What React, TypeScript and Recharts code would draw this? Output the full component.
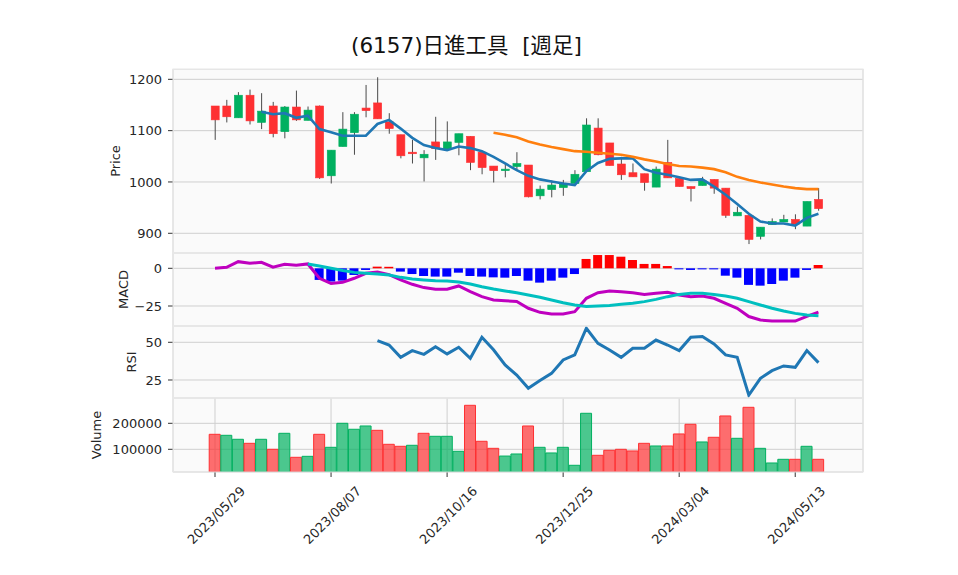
import React from 'react'
import { ComposedChart, Bar, Line, XAxis, YAxis, CartesianGrid, Cell } from 'recharts'

// weekly OHLC
const opens = [1148, 1148, 1125, 1169, 1116, 1148, 1098, 1146, 1120, 1148, 1012, 1069, 1096, 1144, 1154, 1117, 1092, 1058, 1047, 1078, 1064, 1077, 1089, 1058, 1031, 1022, 1030, 1033, 973, 985, 989, 997, 1020, 1105, 1076, 1035, 1018, 1016, 990, 1038, 1007, 991, 993, 1005, 988, 934, 935, 894, 917, 922, 927, 914, 966]
const highs = [1148, 1160, 1175, 1180, 1173, 1156, 1148, 1178, 1147, 1149, 1062, 1136, 1136, 1189, 1204, 1134, 1092, 1082, 1062, 1127, 1118, 1094, 1089, 1058, 1031, 1036, 1058, 1033, 993, 1003, 1004, 1023, 1124, 1124, 1076, 1049, 1036, 1016, 1030, 1082, 1010, 991, 1010, 1005, 988, 952, 935, 912, 929, 936, 937, 962, 988]
const lows = [1082, 1116, 1125, 1112, 1103, 1087, 1085, 1119, 1120, 1006, 997, 1069, 1053, 1126, 1123, 1094, 1046, 1036, 1001, 1043, 1064, 1052, 1023, 1015, 999, 1009, 1023, 970, 966, 970, 973, 997, 1020, 1052, 1032, 1004, 1010, 983, 990, 1008, 991, 962, 993, 977, 930, 934, 879, 888, 917, 922, 908, 914, 944]
const closes = [1121, 1127, 1169, 1119, 1138, 1094, 1146, 1121, 1140, 1008, 1062, 1103, 1132, 1139, 1123, 1104, 1051, 1055, 1054, 1065, 1078, 1094, 1038, 1028, 1022, 1025, 1036, 971, 986, 994, 996, 1015, 1111, 1053, 1032, 1014, 1010, 999, 1025, 1008, 991, 987, 1002, 988, 935, 941, 888, 912, 923, 927, 918, 962, 948]
const volumes = [157700, 153800, 138500, 123000, 138500, 100000, 161500, 69200, 73000, 157700, 107700, 200000, 177000, 189700, 173000, 119200, 111500, 115400, 161500, 150000, 150000, 92300, 269200, 130800, 103800, 74000, 82000, 189700, 107700, 85900, 107700, 38500, 238500, 76900, 96200, 100000, 93600, 123000, 112800, 112800, 159000, 196200, 128200, 146200, 228200, 142300, 261500, 103800, 47400, 61500, 61500, 111500, 61500]

const ma5 = [null, null, null, null, 1137, 1132, 1134, 1125, 1129, 1103, 1097, 1090, 1090, 1090, 1113, 1121, 1104, 1086, 1072, 1066, 1062, 1069, 1066, 1060, 1049, 1036, 1023, 1012, 1005, 1001, 997, 994, 1021, 1037, 1045, 1046, 1046, 1025, 1018, 1014, 1009, 1004, 1005, 991, 975, 957, 938, 923, 919, 919, 915, 930, 938]
const ma25 = [null, null, null, null, null, null, null, null, null, null, null, null, null, null, null, null, null, null, null, null, null, null, null, null, 1096, 1092, 1087, 1079, 1073, 1068, 1064, 1060, 1059, 1057, 1055, 1053, 1049, 1044, 1040, 1035, 1031, 1030, 1028, 1025, 1019, 1010, 1004, 999, 995, 991, 988, 986, 986]

const macdLine = [0, 0.7, 4.4, 3.3, 4, 0.7, 2.7, 2, 2.9, -6.6, -10, -9.3, -6.6, -3.3, -2.4, -4.2, -7.7, -10.6, -12.8, -13.9, -13.9, -11.7, -15.5, -18.8, -21, -21.5, -22, -26.5, -29.2, -30.3, -30.3, -28.8, -19.9, -16.2, -15, -15.5, -16.2, -17.3, -16.6, -15.9, -17.7, -18.8, -18.4, -19.9, -23.2, -26.5, -32, -34.3, -35, -35, -35, -31.9, -29]
const signalLine = [null, null, null, null, null, null, null, null, 2.9, 1.5, 0, -1.5, -2.7, -3.3, -3.8, -4.4, -6, -7.1, -7.7, -8.2, -8.4, -9.1, -10.4, -12.2, -13.7, -15, -16.2, -17.7, -19.2, -21, -22.8, -24.3, -25.4, -25, -24.6, -23.9, -23.2, -22.1, -20.6, -18.8, -17.3, -16.6, -16.6, -17.3, -18.4, -19.9, -22.1, -24.3, -26.5, -28.3, -29.9, -31, -31.4]
const histogram = [null, null, null, null, null, null, null, null, null, -7.7, -8.8, -8.2, -4.4, -1.1, 1.1, 1, -2.2, -3.8, -5.1, -5.5, -5.5, -2.9, -5.1, -5.5, -6, -6.2, -5.1, -8.2, -9.5, -8.2, -6.2, -3.8, 6.2, 8.8, 8.8, 7.7, 5.5, 2.9, 2.9, 1.5, -0.7, -1.1, -0.7, -0.7, -4.9, -6.2, -11, -11.5, -10.4, -8.2, -6.2, -1.1, 2.2]
const rsi14 = [null, null, null, null, null, null, null, null, null, null, null, null, null, null, 51.1, 48.2, 40, 44.5, 42, 47.1, 42.3, 46.7, 39.4, 53.3, 45, 35, 28.3, 19.5, 24.6, 29.4, 38.3, 41.6, 59.3, 49.3, 44.9, 40, 46, 46, 51.5, 48.2, 44.5, 53.3, 53.8, 48.9, 41.6, 40, 15, 26.1, 31.2, 34.3, 33.4, 44.5, 36.5]

const dateTickIdx = [0, 10, 20, 30, 40, 50]
const dateTickLabels = ['2023/05/29', '2023/08/07', '2023/10/16', '2023/12/25', '2024/03/04', '2024/05/13']

const UP = '#00b060'
const DOWN = '#fe3032'
const WICK = '#4a4a4a'
const FONT = '"DejaVu Sans", "Noto Sans CJK JP", sans-serif'
const X_DOMAIN = [-3.62, 55.84]
const AXIS_W = 60
const MARGIN = { top: 0, right: 95, bottom: 0, left: 173 - AXIS_W }
const tickStyle = { fill: '#262626', fontSize: 13, fontFamily: FONT }

const rows = closes.map((c, i) => ({
  i,
  o: opens[i],
  h: highs[i],
  l: lows[i],
  c,
  vol: volumes[i],
  volUp: i > 0 && c >= closes[i - 1],
  ma5: ma5[i],
  ma25: ma25[i],
  macd: macdLine[i],
  signal: signalLine[i],
  hist: histogram[i],
  rsi: rsi14[i],
}))

const fmtNum = (v: number) => (v < 0 ? `\u2212${Math.abs(v)}` : String(v))

const Candle = (props: any) => {
  const { x, y, width, height, payload } = props
  if (!payload) return null
  const { o, h, l, c } = payload
  const top = Math.min(y, y + height)
  const span = Math.abs(height)
  const k = span / (h - l)
  const yOf = (v: number) => top + (h - v) * k
  const color = c >= o ? UP : DOWN
  const bTop = yOf(Math.max(o, c))
  const bBot = yOf(Math.min(o, c))
  const cx = x + width / 2
  return (
    <g>
      <line x1={cx} x2={cx} y1={top} y2={top + span} stroke={WICK} strokeWidth={1} />
      <rect x={x} y={bTop} width={width} height={Math.max(bBot - bTop, 1)} fill={color} stroke={color} strokeWidth={0.6} />
    </g>
  )
}

const DateTick = (props: any) => {
  const { x, y, payload } = props
  const idx = dateTickIdx.indexOf(payload.value)
  const ax = x + 31
  const ay = y + 13
  return (
    <text x={ax} y={ay} transform={`rotate(-45 ${ax} ${ay})`} textAnchor="end" fill="#262626" fontSize={13} fontFamily={FONT}>
      {dateTickLabels[idx]}
    </text>
  )
}

function Panel({ top, height, yDomain, yTicks, dates, children }: any) {
  return (
    <div style={{ position: 'absolute', left: 0, top }}>
      <ComposedChart width={958} height={height + (dates ? 100 : 0)} data={rows} margin={MARGIN}>
        <CartesianGrid stroke="#cfcfcf" fill="#fafafa" />
        {dates ? (
          <XAxis
            type="number"
            dataKey="i"
            domain={X_DOMAIN}
            ticks={dateTickIdx}
            allowDataOverflow
            interval={0}
            height={100}
            axisLine={false}
            tickLine={{ stroke: '#333' }}
            tickSize={5}
            tick={<DateTick />}
          />
        ) : (
          <XAxis
            type="number"
            dataKey="i"
            domain={X_DOMAIN}
            ticks={dateTickIdx}
            allowDataOverflow
            interval={0}
            height={0}
            axisLine={false}
            tickLine={false}
            tick={false}
          />
        )}
        <YAxis
          type="number"
          domain={yDomain}
          ticks={yTicks}
          allowDataOverflow
          interval={0}
          width={AXIS_W}
          tickSize={5}
          tickMargin={6}
          tick={tickStyle}
          tickFormatter={fmtNum}
          axisLine={{ stroke: '#e6e6e6' }}
          tickLine={{ stroke: '#333' }}
        />
        {children}
      </ComposedChart>
    </div>
  )
}

const panels = [
  { top: 69, height: 184 },
  { top: 253, height: 73 },
  { top: 326, height: 72 },
  { top: 398, height: 74 },
]

export default function App() {
  return (
    <div style={{ position: 'absolute', left: 0, top: 0, width: 958, height: 575, background: '#fff', fontFamily: FONT }}>
      <Panel top={69} height={184} yDomain={[861.6, 1220.1]} yTicks={[900, 1000, 1100, 1200]}>
        <Bar dataKey={(d: any) => [d.l, d.h]} barSize={8} shape={<Candle />} isAnimationActive={false} />
        <Line dataKey="ma5" stroke="#1f77b4" strokeWidth={2.6} dot={false} isAnimationActive={false} />
        <Line dataKey="ma25" stroke="#ff7f0e" strokeWidth={2.6} dot={false} isAnimationActive={false} />
      </Panel>
      <Panel top={253} height={73} yDomain={[-38.26, 10.15]} yTicks={[-25, 0]}>
        <Bar dataKey="hist" barSize={9} isAnimationActive={false}>
          {rows.map((r) => (
            <Cell key={r.i} fill={r.hist != null && r.hist >= 0 ? '#ff0000' : '#0000ff'} />
          ))}
        </Bar>
        <Line dataKey="macd" stroke="#bf00bf" strokeWidth={3} dot={false} isAnimationActive={false} />
        <Line dataKey="signal" stroke="#00bfbf" strokeWidth={3} dot={false} isAnimationActive={false} />
      </Panel>
      <Panel top={326} height={72} yDomain={[13.06, 60.8]} yTicks={[25, 50]}>
        <Line dataKey="rsi" stroke="#1f77b4" strokeWidth={3} dot={false} isAnimationActive={false} />
      </Panel>
      <Panel top={398} height={74} yDomain={[12700, 297300]} yTicks={[100000, 200000]} dates>
        <Bar dataKey="vol" barSize={11} isAnimationActive={false}>
          {rows.map((r) => (
            <Cell key={r.i} fill={r.volUp ? UP : DOWN} fillOpacity={0.7} stroke={r.volUp ? UP : DOWN} strokeWidth={1} />
          ))}
        </Bar>
      </Panel>
      <svg width={958} height={575} style={{ position: 'absolute', left: 0, top: 0, pointerEvents: 'none' }}>
        {panels.map((p) => (
          <rect key={p.top} x={173} y={p.top} width={690} height={p.height} fill="none" stroke="#e8e8e8" strokeWidth={1} />
        ))}
        <text x={466.5} y={45} textAnchor="middle" dominantBaseline="central" fontSize={21.5} fill="#111" fontFamily={FONT} style={{ whiteSpace: 'pre' }}>
          {'(6157)日進工具  [週足]'}
        </text>
        <text transform="translate(115 161) rotate(-90)" textAnchor="middle" dominantBaseline="central" fontSize={13} fill="#262626" fontFamily={FONT}>Price</text>
        <text transform="translate(123 289.5) rotate(-90)" textAnchor="middle" dominantBaseline="central" fontSize={13} fill="#262626" fontFamily={FONT}>MACD</text>
        <text transform="translate(131.7 362) rotate(-90)" textAnchor="middle" dominantBaseline="central" fontSize={13} fill="#262626" fontFamily={FONT}>RSI</text>
        <text transform="translate(96.7 435) rotate(-90)" textAnchor="middle" dominantBaseline="central" fontSize={13} fill="#262626" fontFamily={FONT}>Volume</text>
      </svg>
    </div>
  )
}
